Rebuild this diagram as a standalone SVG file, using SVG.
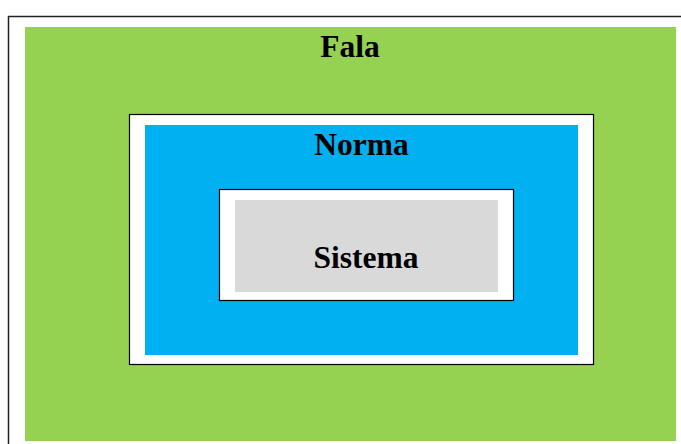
<svg xmlns="http://www.w3.org/2000/svg" width="681" height="444" viewBox="0 0 681 444">
<style>
.lbl{font-family:"Liberation Serif","Times New Roman",serif;font-weight:bold;font-size:31.5px;fill:#000;text-anchor:middle}
.frame{fill:#fff;stroke:#000;stroke-width:1.2}
</style>
<rect width="681" height="444" fill="#fff"/>
<rect x="8.5" y="16.5" width="690" height="450" fill="#fff" stroke="#222" stroke-width="1.5"/>
<g id="fala">
<rect x="25" y="27" width="651" height="414" fill="#95d251"/>
<text class="lbl" x="350" y="56.5">Fala</text>
</g>
<g id="norma">
<rect class="frame" x="129.5" y="114.5" width="464" height="250"/>
<rect x="145" y="125" width="433" height="230" fill="#00b0f0"/>
<text class="lbl" x="361.5" y="154.5">Norma</text>
</g>
<g id="sistema">
<rect class="frame" x="219.5" y="189.5" width="294" height="111"/>
<rect x="235" y="200" width="263" height="92" fill="#d9d9d9"/>
<text class="lbl" x="366" y="267.5">Sistema</text>
</g>
<g id="connectors"/>
</svg>
